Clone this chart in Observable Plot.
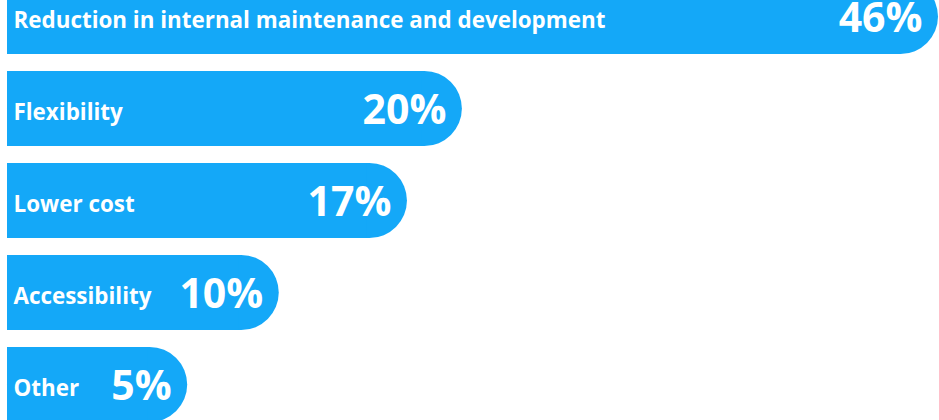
<!DOCTYPE html>
<html>
<head>
<meta charset="utf-8">
<script src="https://cdn.jsdelivr.net/npm/d3@7"></script>
<script src="https://cdn.jsdelivr.net/npm/@observablehq/plot@0.6"></script>
<style>
  html, body { margin: 0; padding: 0; background: #fff; overflow: hidden; width: 939px; height: 420px; }
  #chart svg { display: block; overflow: visible; }
</style>
</head>
<body>
<div id="chart"></div>
<script>
const categories = [
  "Reduction in internal maintenance and development",
  "Flexibility",
  "Lower cost",
  "Accessibility",
  "Other"
];
const values = [46, 20, 17, 10, 5];
const valueLabels = ["46%", "20%", "17%", "10%", "5%"];

const data = categories.map((c, i) => ({category: c, value: values[i], label: valueLabels[i]}));

const xStart = -4.84;
const blue = "#14a8f8";
const font = "'Open Sans', sans-serif";

const chart = Plot.plot({
  width: 939,
  height: 420,
  marginLeft: 7,
  marginRight: 1,
  marginTop: 0,
  marginBottom: 0,
  style: {background: "white", fontFamily: font},
  x: {type: "linear", domain: [xStart, 46], axis: null},
  y: {type: "band", domain: categories, range: [-21, 422], paddingInner: 0.185, paddingOuter: 0, axis: null},
  marks: [
    Plot.barX(data, {y: "category", x1: () => xStart, x2: "value", fill: blue, rx: 37.5}),
    Plot.barX(data, {y: "category", x1: () => xStart, x2: "value", fill: blue, insetRight: 40}),
    Plot.text(data, {y: "category", x: () => xStart, text: "category", textAnchor: "start", dx: 6, dy: 4,
      fill: "white", fontSize: 22.4, fontWeight: "bold", fontFamily: font}),
    Plot.text(data, {y: "category", x: "value", text: "label", textAnchor: "end", dx: -16, dy: 2,
      fill: "white", fontSize: 41, fontWeight: "bold", fontFamily: font})
  ]
});
document.getElementById("chart").appendChild(chart);
</script>
</body>
</html>
